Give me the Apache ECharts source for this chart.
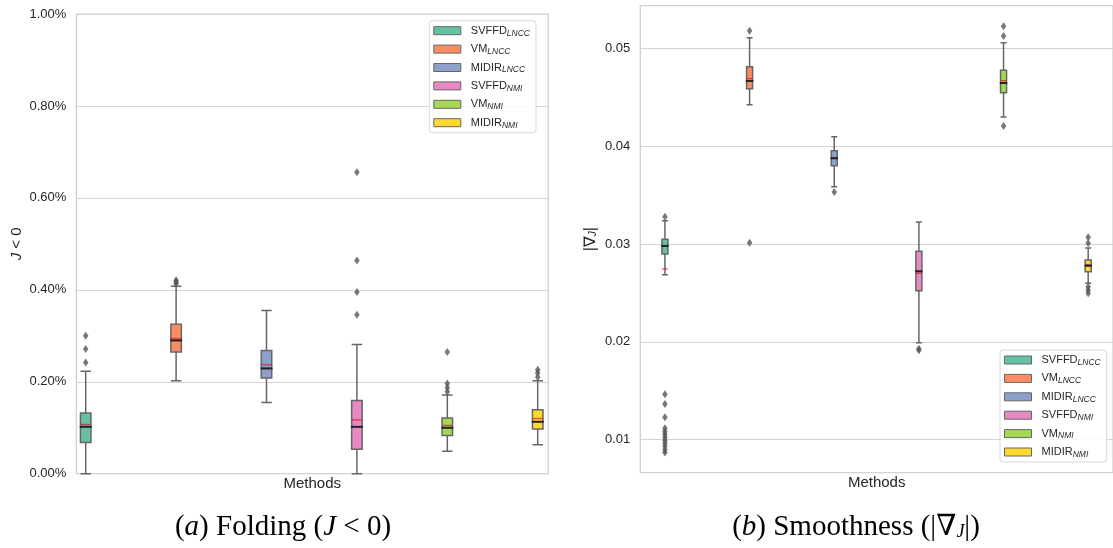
<!DOCTYPE html>
<html>
<head>
<meta charset="utf-8">
<script src="https://cdn.jsdelivr.net/npm/echarts@6/dist/echarts.min.js"></script>
<style>html,body{margin:0;padding:0;background:#fff}#c{width:1113px;height:548px}</style>
</head>
<body>
<div id="c"></div>
<script>
// ---------- data ----------
const methods = ['SVFFD_LNCC', 'VM_LNCC', 'MIDIR_LNCC', 'SVFFD_NMI', 'VM_NMI', 'MIDIR_NMI'];
const palette = ['#66c2a5', '#fc8d62', '#8da0cb', '#e78ac3', '#a6d854', '#ffd92f'];

// (a) Folding, values in percent
const foldTicks = [0, 0.2, 0.4, 0.6, 0.8, 1.0];
const foldMin  = [0.000, 0.202, 0.155, 0.000, 0.049, 0.063];
const foldQ1   = [0.068, 0.265, 0.208, 0.053, 0.083, 0.097];
const foldMed  = [0.102, 0.290, 0.229, 0.102, 0.100, 0.113];
const foldQ3   = [0.132, 0.325, 0.268, 0.159, 0.121, 0.139];
const foldMax  = [0.223, 0.408, 0.355, 0.281, 0.171, 0.202];
const foldMean = [0.107, 0.294, 0.237, 0.117, 0.105, 0.120];
const foldOut  = [
  [0.242, 0.271, 0.300],
  [0.413, 0.417, 0.421],
  [],
  [0.346, 0.395, 0.464, 0.656],
  [0.178, 0.187, 0.196, 0.265],
  [0.210, 0.219, 0.226]
];

// (b) Smoothness
const smTicks = [0.01, 0.02, 0.03, 0.04, 0.05];
const smMin  = [0.02687, 0.04424, 0.03586, 0.01991, 0.04298, 0.02598];
const smQ1   = [0.02898, 0.04587, 0.03800, 0.02523, 0.04546, 0.02717];
const smMed  = [0.02980, 0.04666, 0.03876, 0.02721, 0.04645, 0.02778];
const smQ3   = [0.03048, 0.04812, 0.03953, 0.02925, 0.04775, 0.02836];
const smMax  = [0.03238, 0.05108, 0.04097, 0.03225, 0.05057, 0.02960];
const smMean = [0.02745, 0.04690, 0.03880, 0.02700, 0.04669, 0.02790];
const smOut  = [
  [0.03279, 0.01464, 0.01365, 0.01229, 0.01116, 0.01085, 0.01055, 0.01025, 0.00995, 0.00965, 0.00935, 0.00900, 0.00870],
  [0.05180, 0.03013],
  [0.03531],
  [0.01930, 0.01915],
  [0.05225, 0.05126, 0.04206],
  [0.03068, 0.03007, 0.02564, 0.02530, 0.02496]
];

// ---------- chart ----------
const chart = echarts.init(document.getElementById('c'), null, {renderer: 'canvas'});
const SANS = '"Liberation Sans", Arial, "DejaVu Sans", sans-serif';
const SERIF = '"Liberation Serif", "DejaVu Serif", serif';
const EDGE = '#666666';

function boxData(mn, q1, md, q3, mx) {
  return methods.map((m, i) => ({
    value: [i, mn[i], q1[i], md[i], q3[i], mx[i]],
    itemStyle: {color: palette[i]}
  }));
}
function lineData(arr) { return arr.map((v, i) => [i, v]); }

function panelSeries(g, mn, q1, md, q3, mx, mean, outs, bw) {
  const s = [];
  s.push({
    type: 'boxplot', xAxisIndex: g, yAxisIndex: g, name: 'box' + g,
    boxWidth: [bw, bw], silent: true, z: 3,
    itemStyle: {borderColor: EDGE, borderWidth: 1.5},
    data: boxData(mn, q1, md, q3, mx)
  });
  s.push({
    type: 'scatter', xAxisIndex: g, yAxisIndex: g, name: 'mean' + g, silent: true, z: 4,
    symbol: 'rect', symbolSize: [bw - 0.5, 1.3],
    itemStyle: {color: '#d3262b'}, data: lineData(mean)
  });
  s.push({
    type: 'scatter', xAxisIndex: g, yAxisIndex: g, name: 'median' + g, silent: true, z: 5,
    symbol: 'rect', symbolSize: [bw + 1.5, 2],
    itemStyle: {color: '#111111'}, data: lineData(md)
  });
  methods.forEach((m, i) => {
    s.push({
      type: 'scatter', xAxisIndex: g, yAxisIndex: g, name: m, silent: true, z: 4,
      symbol: 'diamond', symbolSize: [5.5, 8],
      itemStyle: {color: '#555555'},
      data: outs[i].map(v => [i, v])
    });
  });
  return s;
}

function legendFor(left, top) {
  return {
    orient: 'vertical', left: left, top: top,
    selectedMode: false,
    icon: 'rect', itemWidth: 27, itemHeight: 8, itemGap: 4.4,
    padding: [3, 6, 3, 4],
    backgroundColor: 'rgba(255,255,255,0.85)',
    borderColor: '#d9d9d9', borderWidth: 1, borderRadius: 3,
    data: methods.map((m, i) => ({
      name: m,
      itemStyle: {color: palette[i], borderColor: EDGE, borderWidth: 1, opacity: 1}
    })),
    formatter: n => {
      const p = n.split('_');
      return '{b|' + p[0] + '}{s|' + p[1] + '}';
    },
    textStyle: {
      color: '#262626', fontFamily: SANS, fontSize: 11, lineHeight: 14,
      rich: {
        b: {fontFamily: SANS, fontSize: 11, color: '#262626', padding: [0, 0, 0, 5], lineHeight: 14},
        s: {fontFamily: SANS, fontSize: 8.5, fontStyle: 'italic', color: '#262626', padding: [5, 0, 0, 0], lineHeight: 14}
      }
    }
  };
}

const yLabelStyle = {color: '#262626', fontFamily: SANS, fontSize: 13, margin: 10};

const option = {
  animation: false,
  backgroundColor: '#ffffff',
  grid: [
    {left: 76.3, top: 14, width: 471.9, height: 459.7, show: true, borderColor: '#cccccc', borderWidth: 1.2, backgroundColor: '#ffffff'},
    {left: 640.3, top: 5.7, width: 479.7, height: 467, show: true, borderColor: '#cccccc', borderWidth: 1.2, backgroundColor: '#ffffff'}
  ],
  xAxis: [
    {type: 'value', gridIndex: 0, min: -0.104, max: 5.116,
     name: 'Methods', nameLocation: 'middle', nameGap: 3,
     nameTextStyle: {color: '#262626', fontFamily: SANS, fontSize: 15, verticalAlign: 'top'},
     axisLine: {show: false}, axisTick: {show: false}, axisLabel: {show: false}, splitLine: {show: false}},
    {type: 'value', gridIndex: 1, min: -0.291, max: 5.293,
     name: 'Methods', nameLocation: 'middle', nameGap: 3,
     nameTextStyle: {color: '#262626', fontFamily: SANS, fontSize: 15, verticalAlign: 'top'},
     axisLine: {show: false}, axisTick: {show: false}, axisLabel: {show: false}, splitLine: {show: false}}
  ],
  yAxis: [
    {type: 'value', gridIndex: 0, min: foldTicks[0], max: foldTicks[foldTicks.length - 1], interval: 0.2,
     name: '{i|J} < 0', nameLocation: 'middle', nameRotate: 90, nameGap: 52,
     nameTextStyle: {color: '#262626', fontFamily: SANS, fontSize: 15,
       rich: {i: {fontStyle: 'italic', fontFamily: SANS, fontSize: 15, color: '#262626'}}},
     axisLine: {show: false}, axisTick: {show: false},
     axisLabel: Object.assign({formatter: v => v.toFixed(2) + '%'}, yLabelStyle),
     splitLine: {lineStyle: {color: '#d4d4d4', width: 1}}},
    {type: 'value', gridIndex: 1, min: 0.006627, max: 0.054354, splitNumber: 5,
     name: '|∇{i|J}|', nameLocation: 'middle', nameRotate: 90, nameGap: 42,
     nameTextStyle: {color: '#262626', fontFamily: SANS, fontSize: 16,
       rich: {i: {fontStyle: 'italic', fontFamily: SANS, fontSize: 10, color: '#262626', padding: [0, 0, -5, 0]}}},
     axisLine: {show: false}, axisTick: {show: false},
     axisLabel: Object.assign({formatter: v => v.toFixed(2), showMinLabel: false, showMaxLabel: false}, yLabelStyle),
     splitLine: {lineStyle: {color: '#d4d4d4', width: 1}}}
  ],
  legend: [legendFor(429.3, 20.7), legendFor(1000, 350)],
  graphic: [
    {type: 'text', x: 283, y: 527, silent: true, style: {
      text: '({i|a}) Folding ({i|J} < 0)', align: 'center', verticalAlign: 'middle',
      font: '29px ' + SERIF, fill: '#000',
      rich: {i: {fontStyle: 'italic', fontFamily: SERIF, fontSize: 29, fill: '#000'}}}},
    {type: 'text', x: 856, y: 527, silent: true, style: {
      text: '({i|b}) Smoothness (|∇{s|J}|)', align: 'center', verticalAlign: 'middle',
      font: '29px ' + SERIF, fill: '#000',
      rich: {i: {fontStyle: 'italic', fontFamily: SERIF, fontSize: 29, fill: '#000'},
             s: {fontStyle: 'italic', fontFamily: SERIF, fontSize: 18, fill: '#000', padding: [11, 0, 0, 0]}}}}
  ],
  series: [].concat(
    panelSeries(0, foldMin, foldQ1, foldMed, foldQ3, foldMax, foldMean, foldOut, 10.5),
    panelSeries(1, smMin, smQ1, smMed, smQ3, smMax, smMean, smOut, 6)
  )
};
chart.setOption(option);
</script>
</body>
</html>
